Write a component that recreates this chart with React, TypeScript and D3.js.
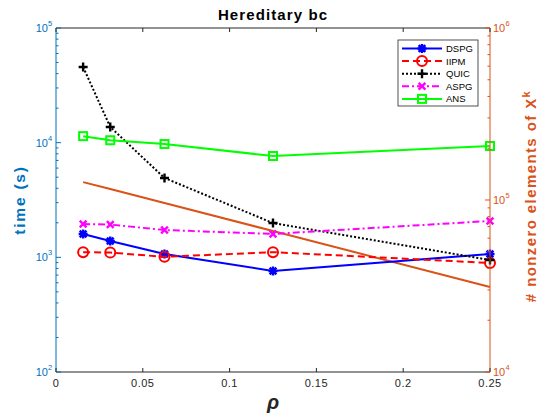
import * as d3 from 'd3';

const rho = [1 / 64, 1 / 32, 1 / 16, 1 / 8, 1 / 4];
const dspg = [1600, 1390, 1070, 760, 1070];
const iipm = [1110, 1100, 1010, 1110, 893];
const quic = [45700, 13700, 4920, 1990, 948];
const aspg = [1950, 1930, 1730, 1600, 2075];
const ans = [11400, 10500, 9730, 7650, 9350];
const nnz = [127000, 116000, 96100, 66000, 31200];

const xTicks = [0, 0.05, 0.1, 0.15, 0.2, 0.25];
const leftTicks = [2, 3, 4, 5];
const rightTicks = [4, 5, 6];

const series = [
  { name: 'DSPG', values: dspg, color: '#0000ff', dash: '', marker: 'asterisk' },
  { name: 'IIPM', values: iipm, color: '#ff0000', dash: '7,4', marker: 'circle' },
  { name: 'QUIC', values: quic, color: '#000000', dash: '2,2', marker: 'plus' },
  { name: 'ASPG', values: aspg, color: '#ff00ff', dash: '7,3,2,3', marker: 'x' },
  { name: 'ANS', values: ans, color: '#00ff00', dash: '', marker: 'square' },
];

const W = 539, H = 414;
const m = { left: 56, right: 49, top: 28, bottom: 42 };
const blue = '#0072BD';
const orange = '#D95319';
const font = '"Liberation Sans", Arial, sans-serif';

function Marker({ type, x, y, color }: { type: string; x: number; y: number; color: string }) {
  const s = 4.5;
  if (type === 'circle') return <circle cx={x} cy={y} r={5} fill="none" stroke={color} strokeWidth={2} />;
  if (type === 'square') return <rect x={x - 4} y={y - 4} width={8} height={8} fill="none" stroke={color} strokeWidth={2} />;
  let d = '';
  if (type === 'plus' || type === 'asterisk') d += `M${x - s},${y}H${x + s}M${x},${y - s}V${y + s}`;
  if (type === 'x' || type === 'asterisk') {
    const k = s * 0.75;
    d += `M${x - k},${y - k}L${x + k},${y + k}M${x - k},${y + k}L${x + k},${y - k}`;
  }
  return <path d={d} stroke={color} strokeWidth={2.4} fill="none" />;
}

export default function App() {
  const x = d3.scaleLinear().domain([0, 0.25]).range([m.left, W - m.right]);
  const yL = d3.scaleLog().domain([1e2, 1e5]).range([H - m.bottom, m.top]);
  const yR = d3.scaleLog().domain([1e4, 1e6]).range([H - m.bottom, m.top]);
  const x0 = m.left, x1 = W - m.right, y0 = H - m.bottom, y1 = m.top;

  const minor = (lo: number, hi: number) => {
    const out: number[] = [];
    for (let e = lo; e < hi; e++) for (let k = 2; k <= 9; k++) out.push(k * Math.pow(10, e));
    return out;
  };

  const lineL = d3.line<number>().x((_, i) => x(rho[i])).y(d => yL(d));
  const lineR = d3.line<number>().x((_, i) => x(rho[i])).y(d => yR(d));

  const lgX = 398, lgY = 40, lgW = 80, lgH = 66;

  return (
    <svg width={W} height={H} style={{ position: 'absolute', left: 0, top: 0, fontFamily: font }}>
      <rect width={W} height={H} fill="#fff" />
      {/* data */}
      <g clipPath="url(#clip)">
        <path d={lineR(nnz) || ''} fill="none" stroke={orange} strokeWidth={2} />
        {series.map(s => (
          <g key={s.name}>
            <path d={lineL(s.values) || ''} fill="none" stroke={s.color} strokeWidth={2} strokeDasharray={s.dash} />
            {s.values.map((v, i) => <Marker key={i} type={s.marker} x={x(rho[i])} y={yL(v)} color={s.color} />)}
          </g>
        ))}
      </g>
      {/* axes box */}
      <line x1={x0} x2={x1} y1={y1} y2={y1} stroke="#262626" strokeWidth={1} />
      <line x1={x0} x2={x1} y1={y0} y2={y0} stroke="#262626" strokeWidth={1} />
      <line x1={x0} x2={x0} y1={y1} y2={y0} stroke={blue} strokeWidth={1} />
      <line x1={x1} x2={x1} y1={y1} y2={y0} stroke={orange} strokeWidth={1} />
      {xTicks.map(t => (
        <g key={t}>
          <line x1={x(t)} x2={x(t)} y1={y0} y2={y0 - 4} stroke="#262626" />
          <line x1={x(t)} x2={x(t)} y1={y1} y2={y1 + 4} stroke="#262626" />
          <text x={x(t)} y={y0 + 15} textAnchor="middle" fontSize={11} letterSpacing={0.5} fill="#262626">{t === 0 ? '0' : String(t)}</text>
        </g>
      ))}
      {leftTicks.map(e => (
        <g key={e}>
          <line x1={x0} x2={x0 + 5} y1={yL(Math.pow(10, e))} y2={yL(Math.pow(10, e))} stroke={blue} />
          <text x={x0 - 8} y={yL(Math.pow(10, e)) + 4} textAnchor="end" fontSize={11} fill={blue}>10</text>
          <text x={x0 - 8} y={yL(Math.pow(10, e)) - 2} fontSize={7.5} fill={blue}>{e}</text>
        </g>
      ))}
      {minor(2, 5).map(v => (
        <line key={v} x1={x0} x2={x0 + 2.5} y1={yL(v)} y2={yL(v)} stroke={blue} />
      ))}
      {rightTicks.map(e => (
        <g key={e}>
          <line x1={x1} x2={x1 - 5} y1={yR(Math.pow(10, e))} y2={yR(Math.pow(10, e))} stroke={orange} />
          <text x={x1 + 3} y={yR(Math.pow(10, e)) + 4} fontSize={11} fill={orange}>10</text>
          <text x={x1 + 15.5} y={yR(Math.pow(10, e)) - 2} fontSize={7.5} fill={orange}>{e}</text>
        </g>
      ))}
      {minor(4, 6).map(v => (
        <line key={v} x1={x1} x2={x1 - 2.5} y1={yR(v)} y2={yR(v)} stroke={orange} />
      ))}
      {/* labels */}
      <text x={(x0 + x1) / 2} y={20} textAnchor="middle" fontSize={15} fontWeight="bold" letterSpacing={1.1} fill="#000">Hereditary bc</text>
      <text x={(x0 + x1) / 2} y={409} textAnchor="middle" fontSize={20} fontWeight="bold" fontStyle="italic" fill="#262626">ρ</text>
      <text transform={`translate(25,${(y0 + y1) / 2}) rotate(-90)`} textAnchor="middle" fontSize={15.5} fontWeight="bold" letterSpacing={1.8} fill={blue}>time (s)</text>
      <text transform={`translate(536,${(y0 + y1) / 2 - 4}) rotate(-90)`} textAnchor="middle" fontSize={15} fontWeight="bold" letterSpacing={1.4} fill={orange}>
        # nonzero elements of X<tspan dy={-6} fontSize={11}>k</tspan>
      </text>
      {/* legend */}
      <rect x={lgX} y={lgY} width={lgW} height={lgH} fill="#fff" stroke="#262626" strokeWidth={0.8} />
      {series.map((s, i) => {
        const yy = lgY + 8.5 + i * 12.6;
        return (
          <g key={s.name}>
            <line x1={lgX + 4} x2={lgX + 44} y1={yy} y2={yy} stroke={s.color} strokeWidth={2} strokeDasharray={s.dash} />
            <Marker type={s.marker} x={lgX + 24} y={yy} color={s.color} />
            <text x={lgX + 48} y={yy + 3.5} fontSize={9.5} fill="#000">{s.name}</text>
          </g>
        );
      })}
      <defs>
        <clipPath id="clip"><rect x={x0 - 8} y={y1} width={x1 - x0 + 16} height={y0 - y1} /></clipPath>
      </defs>
    </svg>
  );
}
